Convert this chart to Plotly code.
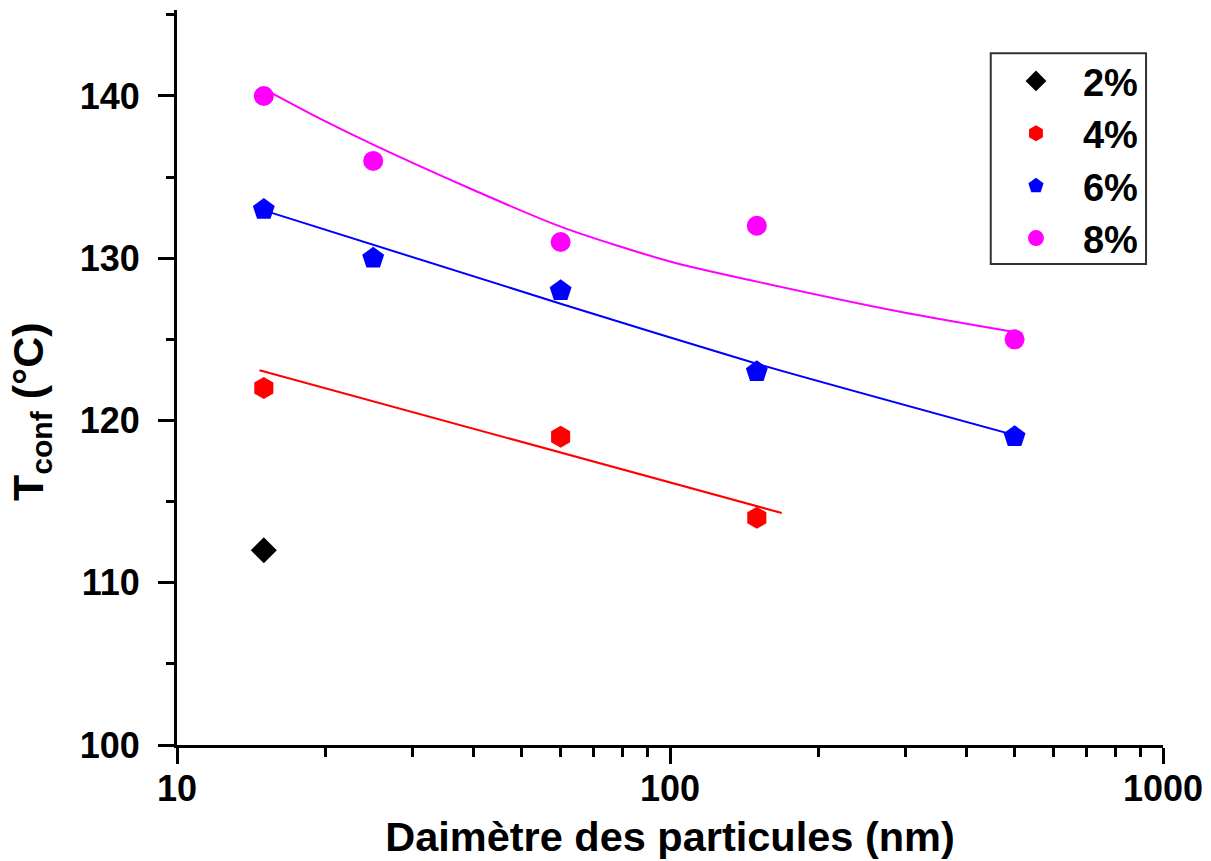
import plotly.graph_objects as go

# ---- data ----
series_names = ["2%", "4%", "6%", "8%"]
x_2 = [15]
y_2 = [112]
x_4 = [15, 60, 150]
y_4 = [122, 119, 114]
x_6 = [15, 25, 60, 150, 500]
y_6 = [133, 130, 128, 123, 119]
x_8 = [15, 25, 60, 150, 500]
y_8 = [140, 136, 131, 132, 125]

# fitted curves as drawn in the reference
fit4_x = [14.7, 168.5]
fit4_y = [123.1, 114.3]
fit6_x = [15, 60, 150, 500]
fit6_y = [132.95, 127.2, 123.5, 119.1]
fit8_x = [15.4, 19.5, 25, 39.3, 60, 100, 150, 293, 500]
fit8_y = [140.25, 138.6, 137.0, 134.3, 131.95, 129.8, 128.56, 126.7, 125.45]

x_ticks = [10, 100, 1000]
y_ticks = [100, 110, 120, 130, 140]

FONT = "Liberation Sans, Arial, sans-serif"
RED = "#ff0000"
BLUE = "#0000ff"
MAG = "#ff00ff"

fig = go.Figure()

# fit lines (no legend)
fig.add_trace(go.Scatter(x=fit4_x, y=fit4_y, mode="lines", line=dict(color=RED, width=2), showlegend=False, hoverinfo="skip"))
fig.add_trace(go.Scatter(x=fit6_x, y=fit6_y, mode="lines", line=dict(color=BLUE, width=2, shape="spline", smoothing=0.6), showlegend=False, hoverinfo="skip"))
fig.add_trace(go.Scatter(x=fit8_x, y=fit8_y, mode="lines", line=dict(color=MAG, width=2, shape="spline", smoothing=0.8), showlegend=False, hoverinfo="skip"))

# data points
fig.add_trace(go.Scatter(x=x_2, y=y_2, mode="markers", name=series_names[0],
                         marker=dict(symbol="diamond", size=20, color="#000000")))
fig.add_trace(go.Scatter(x=x_4, y=y_4, mode="markers", name=series_names[1],
                         marker=dict(symbol="hexagon", size=22, color=RED)))
fig.add_trace(go.Scatter(x=x_6, y=y_6, mode="markers", name=series_names[2],
                         marker=dict(symbol="pentagon", size=23, color=BLUE)))
fig.add_trace(go.Scatter(x=x_8, y=y_8, mode="markers", name=series_names[3],
                         marker=dict(symbol="circle", size=20, color=MAG)))

fig.update_layout(
    template="none",
    width=1211, height=861,
    margin=dict(l=177, r=48, t=10, b=116, autoexpand=False),
    paper_bgcolor="white", plot_bgcolor="white",
    font=dict(family=FONT, color="black"),
    showlegend=True,
    legend=dict(
        x=0.8235, y=0.946, xanchor="left", yanchor="top",
        bgcolor="rgba(0,0,0,0)", borderwidth=0,
        font=dict(family=FONT, size=38, weight="bold", color="black"),
        itemwidth=84, traceorder="normal",
    ),
    xaxis=dict(
        type="log", range=[1, 3], automargin=False,
        tickvals=x_ticks, ticktext=[str(v) for v in x_ticks],
        showline=True, linecolor="black", linewidth=3, mirror=False,
        showgrid=False, zeroline=False,
        ticks="outside", ticklen=16, tickwidth=2.5, tickcolor="black",
        minor=dict(ticks="outside", ticklen=9, tickwidth=2.5, tickcolor="black", dtick="D1", showgrid=False),
        tickfont=dict(family=FONT, size=36, weight="bold"),
        ticklabelstandoff=-6,
        title=dict(text="Daimètre des particules (nm)", font=dict(family=FONT, size=41.5, weight="bold"), standoff=14),
    ),
    yaxis=dict(
        range=[100, 145.3], automargin=False,
        tickvals=y_ticks, ticktext=[str(v) for v in y_ticks],
        showline=True, linecolor="black", linewidth=3, mirror=False,
        showgrid=False, zeroline=False,
        ticks="outside", ticklen=16, tickwidth=2.5, tickcolor="black",
        minor=dict(ticks="outside", ticklen=8, tickwidth=2.5, tickcolor="black", dtick=5, tick0=100, showgrid=False),
        tickfont=dict(family=FONT, size=36, weight="bold"),
        ticklabelstandoff=11,
    ),
    shapes=[dict(type="rect", xref="paper", yref="paper",
                 x0=0.8253, x1=0.9828, y0=0.6544, y1=0.9411,
                 line=dict(color="#333333", width=2), fillcolor="rgba(0,0,0,0)", layer="above")],
    annotations=[dict(
        text="T<sub>conf</sub> (°C)", textangle=-90, showarrow=False,
        xref="paper", yref="paper", x=-0.148, y=0.453, xanchor="center", yanchor="middle",
        font=dict(family=FONT, size=43, weight="bold", color="black"),
    )],
)

fig.write_html(
    "out.html",
    config={"displayModeBar": False},
    post_script="document.body.style.margin='0px';document.body.style.overflow='hidden';",
)
